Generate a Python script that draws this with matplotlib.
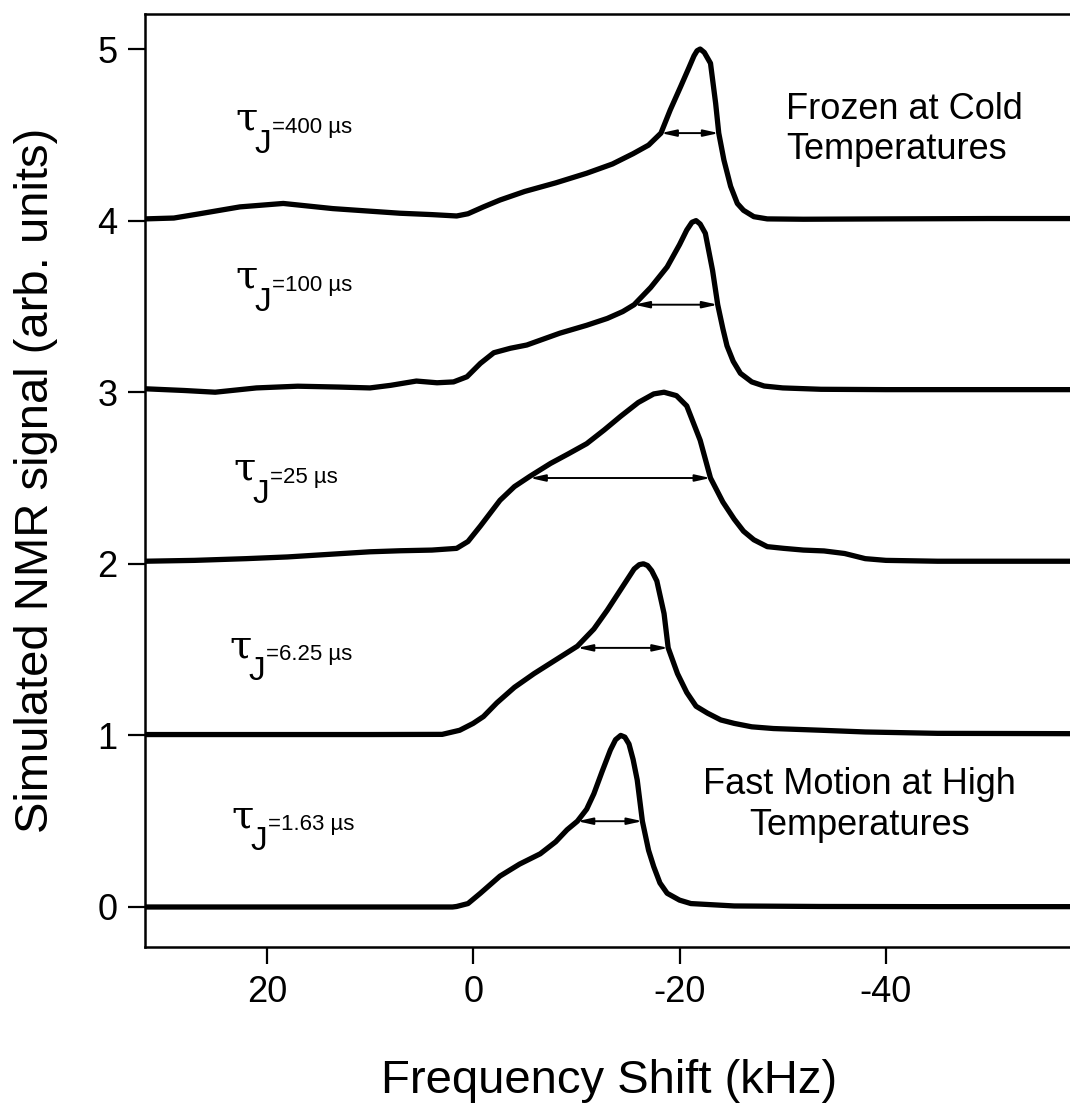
import numpy as np
import matplotlib
matplotlib.use('Agg')
import matplotlib.pyplot as plt
from matplotlib.transforms import offset_copy

plt.rcParams['font.family'] = ['Liberation Sans', 'DejaVu Sans']
plt.rcParams['axes.unicode_minus'] = False

# Simulated spectra (heights relative to each baseline)
x400 = [31.8, 29, 26.5, 22.6, 18.4, 13.6, 10, 7.1, 4, 1.6, 0.5, -1, -2.6, -5, -8, -11,
        -13.5, -15.5, -17, -18.2, -19.1, -20.1, -20.9, -21.4, -21.7, -22.0, -22.4, -23.0,
        -23.5, -23.8, -24.3, -24.95, -25.6, -26.2, -27.2, -28.5, -32, -40, -50, -58.2]
y400 = [0.01, 0.015, 0.04, 0.08, 0.10, 0.07, 0.055, 0.043, 0.035, 0.027, 0.04, 0.08, 0.12,
        0.17, 0.22, 0.276, 0.33, 0.39, 0.44, 0.51, 0.645, 0.78, 0.89, 0.96, 0.99, 1.0, 0.98,
        0.917, 0.683, 0.51, 0.353, 0.20, 0.10, 0.06, 0.023, 0.01, 0.008, 0.01, 0.012, 0.012]

x100 = [31.8, 28, 25, 21, 17, 13, 10, 8, 5.5, 3.5, 1.9, 0.6, -0.7, -2.0, -3.6, -5.2, -8.4,
        -11, -13.0, -14.5, -15.6, -17.2, -18.8, -20.0, -20.7, -21.2, -21.6, -22.0, -22.5,
        -23.2, -23.7, -24.2, -24.6, -25.2, -25.9, -27, -28.2, -30, -33.7, -40, -50, -58.2]
y100 = [0.02, 0.01, 0.0, 0.025, 0.035, 0.03, 0.025, 0.04, 0.065, 0.055, 0.06, 0.09, 0.168,
        0.23, 0.256, 0.275, 0.344, 0.39, 0.43, 0.47, 0.51, 0.61, 0.73, 0.86, 0.945, 0.99, 1.0,
        0.98, 0.926, 0.71, 0.51, 0.37, 0.27, 0.18, 0.11, 0.06, 0.036, 0.025, 0.017, 0.015,
        0.015, 0.015]

x25 = [31.8, 27, 22, 18, 14, 10, 7.1, 4, 1.6, 0.5, -0.7, -2.6, -4, -5.5, -7.5, -9.2, -11,
       -12.7, -14.3, -16, -17.5, -18.5, -19.7, -20.7, -22.0, -23.0, -24.2, -25.3, -26.2,
       -27.2, -28.5, -30.1, -32, -34, -36, -38, -40, -45, -50, -58.2]
y25 = [0.015, 0.02, 0.03, 0.04, 0.055, 0.07, 0.076, 0.08, 0.09, 0.13, 0.22, 0.37, 0.45, 0.51,
       0.585, 0.64, 0.70, 0.78, 0.86, 0.94, 0.99, 1.0, 0.98, 0.92, 0.72, 0.50, 0.36, 0.26,
       0.19, 0.14, 0.10, 0.09, 0.08, 0.075, 0.06, 0.03, 0.02, 0.015, 0.015, 0.015]

x625 = [31.8, 20, 10, 3, 1.3, 0, -1.0, -2.3, -4, -5.9, -8, -10.1, -11.7, -13.0, -14.3, -15.6,
        -16.1, -16.5, -16.9, -17.3, -17.8, -18.5, -18.9, -19.8, -20.7, -21.6, -22.7, -24,
        -25.3, -27, -29.1, -33.7, -38, -45, -58.2]
y625 = [0.005, 0.005, 0.005, 0.006, 0.03, 0.07, 0.11, 0.19, 0.28, 0.36, 0.44, 0.52, 0.62, 0.73,
        0.85, 0.97, 0.995, 1.0, 0.99, 0.96, 0.90, 0.71, 0.51, 0.36, 0.25, 0.17, 0.13, 0.09,
        0.07, 0.05, 0.04, 0.03, 0.02, 0.012, 0.01]

x163 = [31.8, 20, 10, 2, 1.6, 0.5, -0.7, -2.6, -4.5, -6.5, -8, -9.1, -10.1, -11, -11.7, -12.5,
        -13.3, -13.8, -14.3, -14.7, -15.1, -15.5, -15.9, -16.4, -17.0, -17.5, -18.1, -18.8,
        -20, -21.1, -25.3, -33.7, -45, -58.2]
y163 = [0.0, 0.0, 0.0, 0.0, 0.003, 0.02, 0.08, 0.18, 0.25, 0.31, 0.38, 0.45, 0.50, 0.57, 0.66,
        0.79, 0.915, 0.975, 1.0, 0.99, 0.95, 0.86, 0.74, 0.50, 0.33, 0.235, 0.14, 0.08, 0.04,
        0.02, 0.006, 0.003, 0.002, 0.002]

xs = [x400, x100, x25, x625, x163]
ys = [y400, y100, y25, y625, y163]
offsets = [4, 3, 2, 1, 0]
tau_text = ['=400 \u00b5s', '=100 \u00b5s', '=25 \u00b5s', '=6.25 \u00b5s', '=1.63 \u00b5s']
tau_pos = [(23.0, 4.53), (23.0, 3.61), (23.2, 2.49), (23.6, 1.457), (23.4, 0.466)]

# half-width arrows: (y level, left x, right x)
fw_y = [4.51, 3.51, 2.50, 1.51, 0.50]
fw_left = [-18.2, -15.6, -5.5, -10.1, -10.1]
fw_right = [-23.8, -23.7, -23.0, -18.9, -16.4]

fig = plt.figure(figsize=(10.7, 11.12), dpi=100)
ax = fig.add_axes([0.1355, 0.1484, 0.868, 0.839])

for x, y, off in zip(xs, ys, offsets):
    ax.plot(x, np.array(y) + off, color='black', lw=3.8, solid_capstyle='round',
            solid_joinstyle='round')

for yy, xl, xr in zip(fw_y, fw_left, fw_right):
    ax.annotate('', xy=(xr, yy), xytext=(xl, yy),
                arrowprops=dict(arrowstyle='<|-|>,head_length=0.9,head_width=0.2',
                                mutation_scale=10, color='black', lw=1.4,
                                shrinkA=0, shrinkB=0))

for (tx, ty), label in zip(tau_pos, tau_text):
    ax.text(tx, ty, '\u03c4', fontsize=29, family='DejaVu Serif', va='baseline')
    ax.text(tx, ty, 'J', fontsize=24, va='baseline',
            transform=offset_copy(ax.transData, fig, 19, -23, units='dots'))
    ax.text(tx, ty, label, fontsize=16, va='baseline',
            transform=offset_copy(ax.transData, fig, 36, -3, units='dots'))

ax.text(-30.3, 4.53, 'Frozen at Cold\nTemperatures', fontsize=26, ha='left', va='center')
ax.text(-37.4, 0.594, 'Fast Motion at High\nTemperatures', fontsize=26, ha='center',
        va='center', multialignment='center')

ax.set_xlim(31.8, -58.2)
ax.set_ylim(-0.233, 5.204)
ax.set_xticks([20, 0, -20, -40])
ax.set_yticks([0, 1, 2, 3, 4, 5])
ax.tick_params(labelsize=26, length=12, width=1.6, direction='out', pad=8)
for s in ax.spines.values():
    s.set_linewidth(1.8)

ax.set_xlabel('Frequency Shift (kHz)', fontsize=34)
ax.set_ylabel('Simulated NMR signal (arb. units)', fontsize=34)
ax.xaxis.set_label_coords(0.5, -0.12)
ax.yaxis.set_label_coords(-0.094, 0.5)

plt.savefig('out.png', dpi=100)
